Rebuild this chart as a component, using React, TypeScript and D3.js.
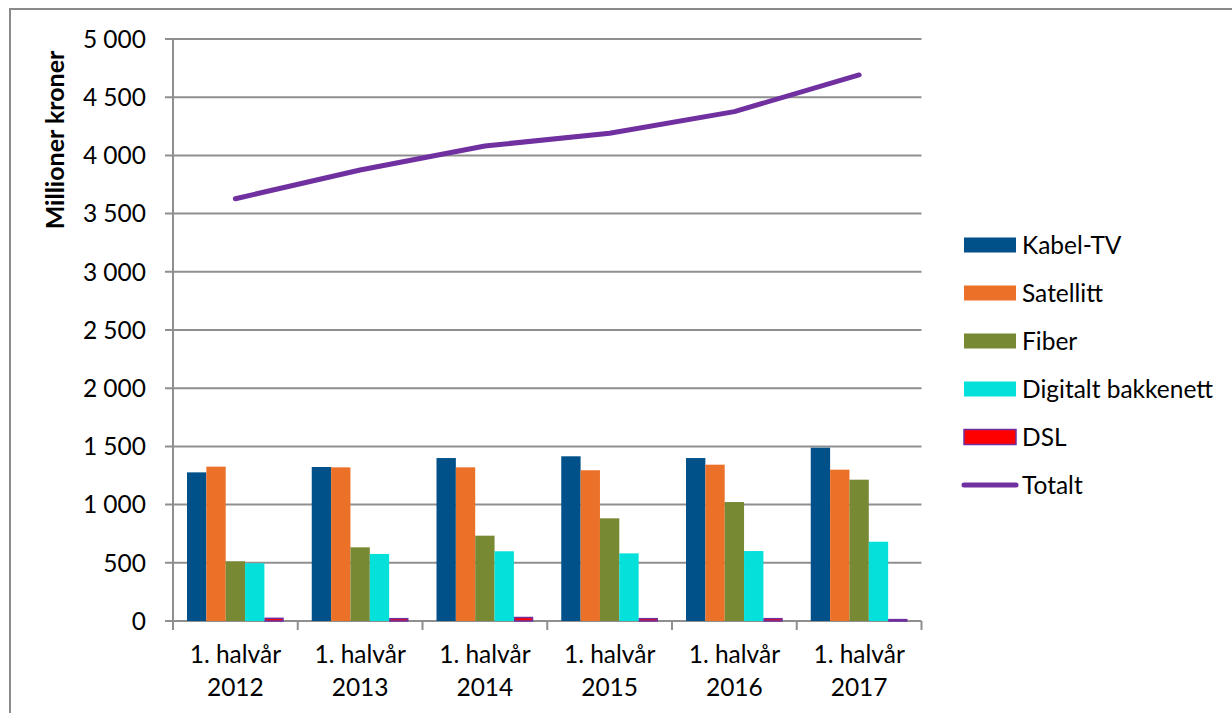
import React from "react";
import * as d3 from "d3";

const categories = ["1. halvår 2012", "1. halvår 2013", "1. halvår 2014", "1. halvår 2015", "1. halvår 2016", "1. halvår 2017"];
const seriesNames = ["Kabel-TV", "Satellitt", "Fiber", "Digitalt bakkenett", "DSL"];
const kabelTV = [1277, 1323, 1400, 1415, 1400, 1489];
const satellitt = [1326, 1320, 1320, 1295, 1343, 1300];
const fiber = [513, 633, 733, 882, 1022, 1214];
const digitaltBakkenett = [496, 576, 599, 581, 601, 681];
const dsl = [23, 20, 30, 20, 20, 12];
const totalt = [3628, 3875, 4081, 4190, 4376, 4691];
const yTicks = [0, 500, 1000, 1500, 2000, 2500, 3000, 3500, 4000, 4500, 5000];

const seriesValues = [kabelTV, satellitt, fiber, digitaltBakkenett, dsl];
const fills = ["#00518a", "#ec7128", "#788934", "#05e0da", "#ff0000"];
const strokes = ["none", "none", "none", "none", "#7030a0"];
const lineColor = "#7030a0";
const gridColor = "#8f8f8f";
const font = "Lato, 'Open Sans', sans-serif";

export default function App() {
  const W = 1232, H = 713;
  const left = 173, right = 921.5, top = 39, bottom = 621;
  const x = d3.scaleBand<string>().domain(categories).range([left, right]).padding(0);
  const bw = x.bandwidth();
  const inner = d3.scaleBand<number>().domain(d3.range(seriesNames.length)).range([14, bw - 14]).padding(0);
  const y = d3.scaleLinear().domain([0, 5000]).range([bottom, top]);
  const fmt = (v: number) => d3.format(",")(v).replace(/,/g, " ");
  const line = d3.line<number>()
    .x((_, i) => (x(categories[i]) as number) + bw / 2)
    .y((d) => y(d));

  const legendItems = [...seriesNames, "Totalt"];

  return (
    <svg width={W} height={H} style={{ position: "absolute", left: 0, top: 0 }} fontFamily={font}>
      <rect x={0} y={0} width={W} height={H} fill="#fff" />
      <rect x={10} y={9} width={W + 20} height={H + 20} fill="none" stroke="#8a8a8a" strokeWidth={2} />
      {/* gridlines */}
      {yTicks.map((t) => (
        <g key={t}>
          <line x1={left - 8} x2={right} y1={y(t)} y2={y(t)} stroke={gridColor} strokeWidth={2} />
          <text x={146} y={y(t)} dy="0.36em" textAnchor="end" fontSize={24.5} fill="#000">{fmt(t)}</text>
        </g>
      ))}
      <line x1={left} x2={left} y1={top} y2={bottom} stroke={gridColor} strokeWidth={2} />
      {/* category ticks */}
      {[...categories.map((c) => x(c) as number), right].map((tx, i) => (
        <line key={i} x1={tx} x2={tx} y1={bottom} y2={bottom + 9} stroke={gridColor} strokeWidth={2} />
      ))}
      {/* bars */}
      {categories.map((c, ci) => (
        <g key={c} transform={`translate(${x(c)},0)`}>
          {seriesValues.map((vals, si) => (
            <rect key={si}
              x={(inner(si) as number) + (strokes[si] !== "none" ? 0.75 : 0)}
              y={y(vals[ci])}
              width={inner.bandwidth() - (strokes[si] !== "none" ? 1.5 : 0)}
              height={bottom - y(vals[ci])}
              fill={fills[si]}
              stroke={strokes[si]}
              strokeWidth={strokes[si] !== "none" ? 1.5 : 0} />
          ))}
        </g>
      ))}
      {/* total line */}
      <path d={line(totalt) || ""} fill="none" stroke={lineColor} strokeWidth={5} strokeLinecap="round" strokeLinejoin="round" />
      {/* category labels */}
      {categories.map((c) => {
        const parts = [c.slice(0, c.lastIndexOf(" ")), c.slice(c.lastIndexOf(" ") + 1)];
        const cx = (x(c) as number) + bw / 2;
        return (
          <text key={c} x={cx} textAnchor="middle" fontSize={24.5} fill="#000">
            <tspan x={cx} y={663}>{parts[0]}</tspan>
            <tspan x={cx} y={696}>{parts[1]}</tspan>
          </text>
        );
      })}
      {/* y title */}
      <text transform="translate(64,140) rotate(-90)" textAnchor="middle" fontSize={25} fontWeight="bold" fill="#000">Millioner kroner</text>
      {/* legend */}
      {legendItems.map((name, i) => {
        const cy = 245 + i * 48;
        return (
          <g key={name}>
            {i < seriesNames.length ? (
              <rect x={964} y={cy - 7.5} width={52} height={15} fill={fills[i]} stroke={strokes[i]} strokeWidth={strokes[i] !== "none" ? 1.5 : 0} />
            ) : (
              <line x1={964} x2={1016} y1={cy} y2={cy} stroke={lineColor} strokeWidth={5} strokeLinecap="round" />
            )}
            <text x={1022} y={cy} dy="0.36em" fontSize={24.5} fill="#000">{name}</text>
          </g>
        );
      })}
    </svg>
  );
}
